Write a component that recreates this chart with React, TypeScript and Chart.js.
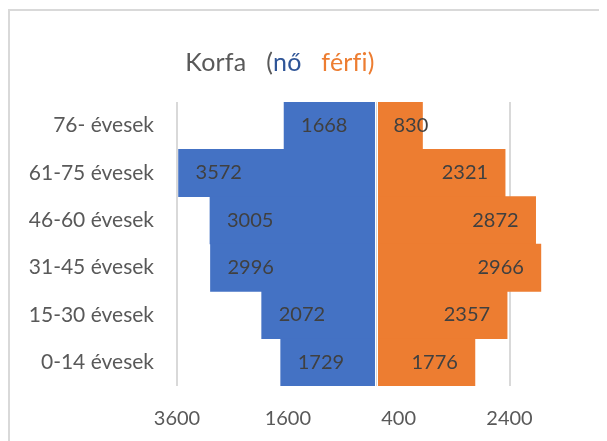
import React, { useEffect, useRef } from "react";
import { Chart, registerables } from "chart.js";

Chart.register(...registerables);

const categories = ["76- évesek", "61-75 évesek", "46-60 évesek", "31-45 évesek", "15-30 évesek", "0-14 évesek"];
const women = [1668, 3572, 3005, 2996, 2072, 1729];
const men = [830, 2321, 2872, 2966, 2357, 1776];
const xTicks = [-3600, -1600, 400, 2400];
const titleParts: [string, string][] = [
  ["Korfa   (", "#595959"],
  ["nő", "#2f5597"],
  ["   férfi)", "#ed7d31"],
];

const FONT = "Lato";

const frameTitlePlugin = {
  id: "frameTitle",
  beforeDraw(chart: any) {
    const ctx = chart.ctx;
    ctx.save();
    ctx.fillStyle = "#d9d9d9";
    ctx.fillRect(0, 1, chart.width, 2);
    ctx.fillRect(0, 1, 2, chart.height);
    ctx.restore();
  },
  afterDraw(chart: any) {
    const ctx = chart.ctx;
    ctx.save();
    ctx.font = `25px ${FONT}`;
    try {
      ctx.letterSpacing = "0.2px";
    } catch (e) {}
    ctx.textBaseline = "alphabetic";
    ctx.textAlign = "left";
    const total = titleParts.reduce((s, p) => s + ctx.measureText(p[0]).width, 0);
    let x = 272 - total / 2;
    for (const [t, c] of titleParts) {
      ctx.fillStyle = c;
      ctx.fillText(t, x, 63);
      x += ctx.measureText(t).width;
    }
    ctx.restore();
  },
};

const labelPlugin = {
  id: "barLabels",
  afterDatasetsDraw(chart: any) {
    const ctx = chart.ctx;
    const area = chart.chartArea;
    const zeroX = chart.scales.x.getPixelForValue(0);
    ctx.save();
    ctx.fillStyle = "#ffffff";
    ctx.fillRect(zeroX - 1.5, area.top, 3, area.bottom - area.top);
    ctx.fillStyle = "#d9d9d9";
    ctx.fillRect(zeroX - 0.5, area.top, 1, area.bottom - area.top);

    ctx.font = `20px ${FONT}`;
    ctx.fillStyle = "#404040";
    ctx.textBaseline = "middle";
    const pad = 17;
    chart.data.datasets.forEach((ds: any, di: number) => {
      const meta = chart.getDatasetMeta(di);
      meta.data.forEach((el: any, i: number) => {
        const v = ds.data[i];
        const text = String(Math.abs(v));
        const w = ctx.measureText(text).width;
        const barW = Math.abs(el.x - el.base);
        const fits = w + 2 * pad <= barW;
        if (v < 0) {
          if (fits) {
            ctx.textAlign = "left";
            ctx.fillText(text, el.x + pad, el.y);
          } else {
            ctx.textAlign = "right";
            ctx.fillText(text, el.base - pad, el.y);
          }
        } else {
          if (fits) {
            ctx.textAlign = "right";
            ctx.fillText(text, el.x - pad, el.y);
          } else {
            ctx.textAlign = "left";
            ctx.fillText(text, el.base + pad, el.y);
          }
        }
      });
    });
    ctx.restore();
  },
};

export default function App() {
  const ref = useRef<HTMLCanvasElement>(null);
  useEffect(() => {
    if (!ref.current) return;
    const chart = new Chart(ref.current, {
      type: "bar",
      data: {
        labels: categories,
        datasets: [
          {
            label: "nő",
            data: women.map((v) => -v),
            backgroundColor: "#4472c4",
            borderWidth: 0,
            categoryPercentage: 1,
            barPercentage: 1,
          },
          {
            label: "férfi",
            data: men,
            backgroundColor: "#ed7d31",
            borderWidth: 0,
            categoryPercentage: 1,
            barPercentage: 1,
          },
        ],
      },
      options: {
        indexAxis: "y",
        responsive: false,
        animation: false,
        layout: { padding: { top: 94, right: 23, bottom: 0, left: 0 } },
        plugins: {
          legend: { display: false },
          title: { display: false },
          tooltip: { enabled: false },
        },
        scales: {
          x: {
            stacked: true,
            min: -3600,
            max: 3600,
            afterBuildTicks: (scale: any) => {
              scale.ticks = xTicks.map((v) => ({ value: v }));
            },
            afterFit: (scale: any) => {
              scale.height = 55;
            },
            grid: { color: "#d9d9d9", lineWidth: 2, drawTicks: false },
            border: { display: false },
            ticks: {
              padding: 21,
              color: "#595959",
              font: { family: FONT, size: 20 },
              autoSkip: false,
              maxRotation: 0,
              callback: (v: any) => String(Math.abs(Number(v))),
            },
          },
          y: {
            stacked: true,
            afterFit: (scale: any) => {
              scale.width = 169;
            },
            grid: { display: false, drawTicks: false },
            border: { display: false },
            ticks: {
              padding: 23,
              color: "#595959",
              font: { family: FONT, size: 21 },
            },
          },
        },
      },
      plugins: [labelPlugin, frameTitlePlugin],
    } as any);
    return () => chart.destroy();
  }, []);
  return (
    <div style={{ width: 591, height: 433, overflow: "hidden" }}>
      <canvas ref={ref} width={591} height={433} style={{ display: "block" }} />
    </div>
  );
}
